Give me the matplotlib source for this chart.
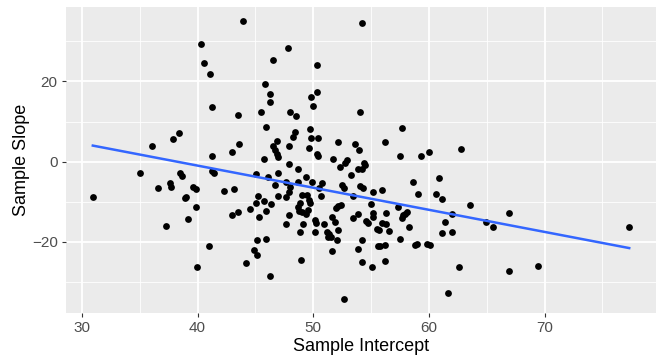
import numpy as np
import matplotlib
matplotlib.use("Agg")
import matplotlib.pyplot as plt
from matplotlib.ticker import MultipleLocator

plt.rcParams['font.family'] = ['Liberation Sans', 'DejaVu Sans']

# sample intercept / sample slope pairs
intercepts = [30.95, 35.04, 36.08, 36.59, 37.29, 37.63, 37.74, 37.87, 38.41, 38.52,
              38.64, 38.95, 39.04, 39.16, 39.65, 39.85, 39.84, 39.94, 40.29, 40.6,
              41.09, 41.26, 41.29, 41.29, 41.43, 40.96, 42.3, 42.96, 43.18, 42.96,
              43.51, 43.51, 43.61, 43.94, 44.17, 44.52, 44.85, 45.18, 45.07, 45.11,
              45.07, 45.26, 45.35, 45.45, 45.73, 45.73, 45.96, 45.93, 46.3, 45.84,
              46.3, 46.3, 46.51, 45.96, 46.39, 46.1, 46.85, 46.51, 46.72, 46.85,
              46.92, 46.97, 46.73, 46.97, 47.61, 47.63, 47.66, 47.96, 47.89, 47.89,
              47.94, 48.0, 47.86, 48.52, 48.39, 48.28, 48.65, 48.69, 47.87, 49.07,
              49.47, 49.62, 49.76, 48.89, 48.72, 48.81, 49.07, 49.39, 49.59, 49.36,
              49.88, 49.73, 49.84, 50.44, 49.65, 50.31, 50.42, 50.29, 50.31, 49.84,
              49.97, 50.54, 50.71, 50.8, 50.16, 50.25, 49.1, 48.84, 50.16, 50.92,
              51.2, 51.4, 51.55, 51.29, 48.95, 51.63, 51.89, 52.18, 52.09, 51.65,
              51.72, 52.35, 52.93, 52.78, 52.18, 52.52, 52.64, 52.13, 52.39, 52.0,
              52.67, 53.64, 53.97, 54.08, 54.2, 54.37, 54.49, 54.25, 53.85, 53.28,
              54.08, 54.31, 53.47, 53.91, 53.47, 54.57, 54.75, 54.2, 53.88, 54.23,
              54.98, 55.2, 55.15, 55.18, 55.55, 55.64, 55.09, 55.96, 56.19, 56.3,
              55.98, 56.33, 55.67, 56.52, 55.76, 56.21, 56.21, 57.3, 58.07, 57.94,
              57.8, 57.66, 58.31, 57.51, 57.64, 57.53, 58.63, 59.07, 58.76, 58.98,
              59.82, 60.12, 59.3, 59.97, 60.86, 60.62, 61.11, 61.42, 62.0, 61.11,
              61.98, 61.63, 62.64, 62.76, 63.52, 64.94, 65.52, 66.96, 66.96, 69.41,
              77.32]
slopes = [-8.9, -2.75, 3.93, -6.65, -16.0, -5.4, -6.4, 5.75, 7.1, -2.75,
          -3.5, -9.0, -8.75, -14.4, -6.4, -6.75, -11.25, -26.25, 29.35, 24.5,
          21.9, 13.55, 1.35, -2.3, -2.9, -21.15, -7.3, 2.3, -6.95, -13.4,
          -12.5, 11.7, 4.3, 35.1, -25.3, -11.8, -22.1, -23.4, -3.1, -19.6,
          -10.25, -8.65, -13.75, 12.3, -9.9, 0.7, -12.2, -19.25, -28.6, 19.35,
          16.85, 14.85, 25.3, 8.75, -10.6, -3.75, 5.25, 4.0, 2.9, 1.8,
          1.05, -2.75, -5.8, -8.6, -8.8, -15.65, -5.1, -6.45, -13.4, -0.5,
          3.9, 12.3, 28.35, 11.3, 7.4, 6.2, -1.8, -5.0, -7.5, -8.3,
          -8.3, -9.6, -10.25, -10.4, -11.25, -12.3, -12.5, -13.1, -12.1, -3.75,
          -5.0, 8.1, 5.9, 5.9, 3.3, 2.0, 1.4, 24.2, 17.4, 16.1,
          13.9, -6.5, -8.6, -5.4, -14.6, -15.4, -15.65, -17.5, -17.5, -15.65,
          -17.5, -18.1, -18.75, -18.75, -24.6, -13.9, -15.15, -17.0, -19.6, -22.4,
          0.75, -1.25, 0.4, -0.4, 4.9, -5.8, -6.65, -11.1, -10.9, -11.65,
          -34.3, 4.3, 2.9, 12.3, 34.5, -0.25, -0.9, -1.9, -1.9, -3.4,
          -6.1, -6.5, -8.6, -13.1, -14.1, -14.75, -15.4, -19.6, -21.9, -25.0,
          -10.6, -12.9, -13.75, -7.7, -16.9, -21.1, -26.25, -7.1, 4.9, -12.8,
          -15.3, -15.6, -17.0, -17.3, -21.15, -20.8, -24.7, -11.25, -12.45, -12.95,
          -13.4, -13.95, -16.3, -19.2, 8.4, 1.4, -5.1, -8.2, -20.8, -20.45,
          -20.45, -20.9, 1.35, 2.35, -4.1, -8.2, -9.3, -15.0, -13.1, -17.9,
          -17.6, -32.7, -26.3, 3.25, -10.9, -15.0, -16.3, -12.75, -27.25, -26.0,
          -16.3]

x_ticks = [30, 40, 50, 60, 70]
y_ticks = [-20, 0, 20]

x = np.array(intercepts)
y = np.array(slopes)

fig = plt.figure(figsize=(6.58, 3.63), dpi=100)
ax = fig.add_axes([0.1003, 0.1377, 0.8967, 0.843])
ax.set_facecolor('#EBEBEB')

ax.scatter(x, y, s=24, color='black', linewidths=0, zorder=3)

# linear fit like geom_smooth(method="lm", se=FALSE)
b, a = np.polyfit(x, y, 1)
xs = np.array([x.min(), x.max()])
ax.plot(xs, a + b * xs, color='#3366FF', lw=1.8, zorder=4)

xr = x.max() - x.min()
yr = y.max() - y.min()
ax.set_xlim(x.min() - 0.05 * xr, x.max() + 0.05 * xr)
ax.set_ylim(y.min() - 0.05 * yr, y.max() + 0.05 * yr)

ax.set_xticks(x_ticks)
ax.set_yticks(y_ticks)
ax.xaxis.set_minor_locator(MultipleLocator(5))
ax.yaxis.set_minor_locator(MultipleLocator(10))
ax.grid(which='major', color='white', lw=1.3, zorder=0)
ax.grid(which='minor', color='white', lw=0.6, zorder=0)
ax.set_axisbelow(True)
for s in ax.spines.values():
    s.set_visible(False)

ax.tick_params(which='major', length=3, width=0.8, color='#333333',
               labelsize=11, labelcolor='#4D4D4D', pad=3)
ax.tick_params(which='minor', length=0)

ax.set_xlabel('Sample Intercept', fontsize=13, labelpad=2)
ax.set_ylabel('Sample Slope', fontsize=13, labelpad=1)

fig.savefig('out.png', dpi=100)
